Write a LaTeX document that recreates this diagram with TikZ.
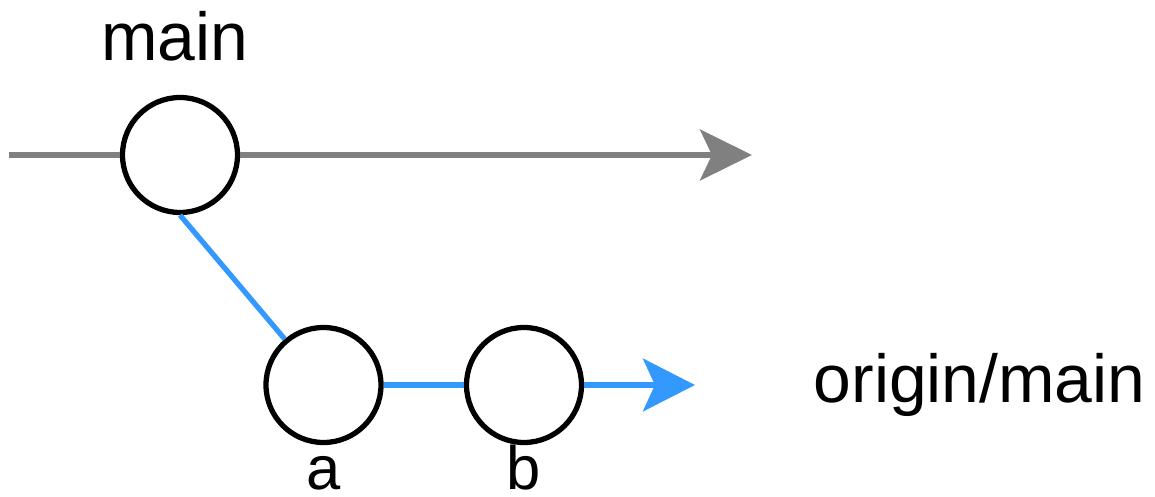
\documentclass[tikz,border=0pt]{standalone}
\usepackage{fontspec}
\setmainfont{Liberation Sans}
\usetikzlibrary{arrows.meta,positioning}
\definecolor{trunkgray}{HTML}{808080}
\definecolor{branchblue}{HTML}{3399FF}

\begin{document}
\begin{tikzpicture}[every node/.style={font=\fontsize{19.3}{23}\selectfont},
  commit/.style={circle, draw=black, line width=1.5pt, minimum size=1.15cm, inner sep=0pt, fill=white},
  reflab/.style={inner sep=0pt, text height=13.9pt, text depth=0pt},
  commitlab/.style={inner sep=0pt, font=\fontsize{17.5}{21}\selectfont, text height=12.2pt, text depth=0pt},
  trunk/.style={draw=trunkgray, line width=1.5pt},
  branch/.style={draw=branchblue, line width=1.5pt},
]
\useasboundingbox (0,0) rectangle (11.55,4.97);

% --- commits ---
\node[commit] (main) at (1.80, 3.42) {};
\node[commit] (a) at (3.235, 1.12) {};
\node[commit] (b) at (5.24, 1.12) {};

% free ends of the two lines
\coordinate (trunkstart) at (0.09, 3.42);
\coordinate (trunkend) at (7.52, 3.42);
\coordinate (branchend) at (6.95, 1.12);

% --- labels ---
\node[reflab, above=0.34cm of main, xshift=-0.05cm] (mainlab) {main};
\node[commitlab, below=0.01cm of a] (alab) {a};
\node[commitlab, below=0.01cm of b] (blab) {b};
\node[reflab, text depth=4pt, right=1.18cm of branchend] (originlab) {origin/main};

% --- local main (grey) ---
\draw[trunk] (trunkstart) -- (main);
\draw[trunk, -{Stealth[length=14.8pt, width=14.5pt, inset=3.4pt]}] (main) -- (trunkend);

% --- origin/main (blue) ---
\draw[branch] (main.south) -- (a);
\draw[branch] (a) -- (b);
\draw[branch, -{Stealth[length=14.8pt, width=15pt, inset=3.4pt]}] (b) -- (branchend);

\end{tikzpicture}
\end{document}
